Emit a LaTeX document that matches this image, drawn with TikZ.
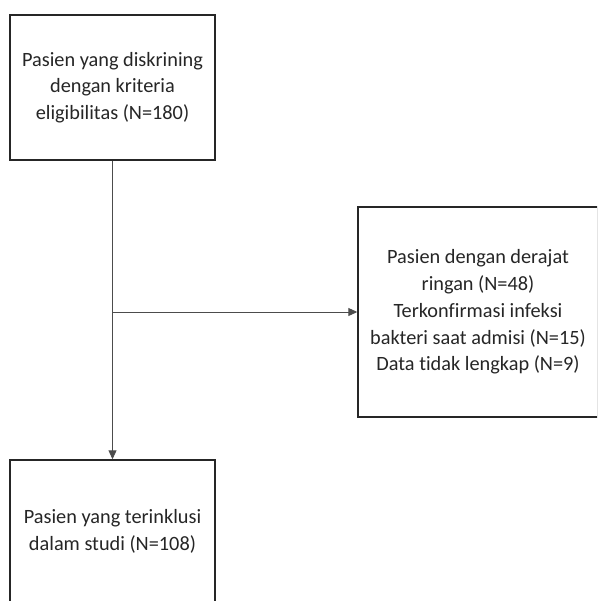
\documentclass[tikz,border=0pt]{standalone}
\usepackage{fontspec}
\setmainfont{Carlito}[Ligatures=NoCommon]
\usetikzlibrary{arrows.meta,positioning,calc}
\definecolor{linegray}{gray}{0.3}

\begin{document}
\begin{tikzpicture}[x=1pt, y=1pt,
  box/.style={draw=black!85, line width=1.4pt, fill=white, align=center,
    font=\fontsize{20.3}{26.8}\selectfont, text=black!85, inner sep=0pt},
  arr/.style={-{Triangle[length=9pt, width=8pt]}, line width=0.9pt, draw=linegray}
]
\useasboundingbox (0,0) rectangle (597,-601);
\clip (0,0) rectangle (597,-601);

\node[box, minimum width=205pt, minimum height=145pt] (screen) at (112.5,-87.5)
  {Pasien yang diskrining\\dengan kriteria\\eligibilitas (N=180)};
\node[box, minimum width=240pt, minimum height=210pt] (excl) at (478,-312)
  {Pasien dengan derajat\\ringan (N=48)\\Terkonfirmasi infeksi\\bakteri saat admisi (N=15)\\Data tidak lengkap (N=9)};
\node[box, minimum width=205pt, minimum height=142pt] (incl) at (112.5,-531)
  {Pasien yang terinklusi\\dalam studi (N=108)};

\draw[arr] (screen) -- (incl);
\coordinate (split) at (screen.south |- excl.west);
\draw[arr] (split) -- (excl.west);
\end{tikzpicture}
\end{document}
